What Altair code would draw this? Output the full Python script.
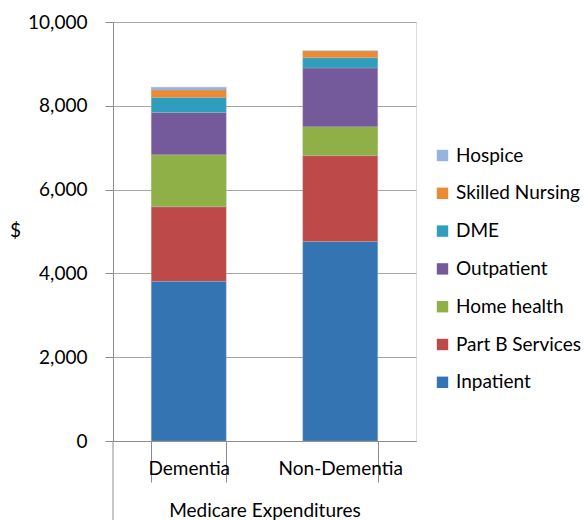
import altair as alt
import pandas as pd

groups = ["Dementia", "Non-Dementia"]
services = ["Inpatient", "Part B Services", "Home health", "Outpatient", "DME", "Skilled Nursing", "Hospice"]
dementia = [3810, 1780, 1240, 1010, 360, 175, 70]
non_dementia = [4760, 2050, 690, 1405, 240, 165, 0]
colors = ["#3574B3", "#BD4A48", "#8FAF47", "#745A9B", "#2F9EBD", "#EB8A35", "#95B4DE"]
y_ticks = [0, 2000, 4000, 6000, 8000, 10000]

rows = []
for g, vals in zip(groups, [dementia, non_dementia]):
    for i, (s, v) in enumerate(zip(services, vals)):
        rows.append({"group": g, "service": s, "value": v, "rank": i})
df = pd.DataFrame(rows)

FONT = "Lato"
W, H = 303, 419

bars = alt.Chart(df).mark_bar(stroke="#B0B0B0", strokeWidth=0.6, strokeOpacity=0.6).encode(
    x=alt.X("group:N", sort=groups,
            scale=alt.Scale(paddingInner=0.505, paddingOuter=0.2525),
            axis=alt.Axis(title="Medicare Expenditures", labelAngle=0, tickBand="extent",
                          tickSize=41, labelPadding=-14, domainColor="#8C8C8C",
                          tickColor="#8C8C8C", labelFontSize=19, labelFont=FONT,
                          labelColor="#000000", titleFontSize=19, titleFont=FONT,
                          titleFontWeight="normal", titleColor="#000000",
                          titleY=69, titleBaseline="middle",
                          labelBaseline="middle")),
    y=alt.Y("value:Q", stack="zero",
            scale=alt.Scale(domain=[0, 10000], nice=False),
            axis=alt.Axis(title="$", titleAngle=0, titleX=-98, titleY=H / 2 + 9,
                          titleFontSize=19, titleFont=FONT, titleFontWeight="normal",
                          titleColor="#000000", values=y_ticks, format=",.0f",
                          labelFontSize=19, labelFont=FONT, labelColor="#000000",
                          labelPadding=18, tickSize=8, tickColor="#8C8C8C",
                          domainColor="#8C8C8C", gridColor="#A6A6A6", gridWidth=1.2)),
    color=alt.Color("service:N",
                    scale=alt.Scale(domain=services[::-1], range=colors[::-1]),
                    legend=alt.Legend(title=None, orient="none", legendX=320, legendY=124,
                                      symbolType="square", symbolSize=130,
                                      symbolStrokeWidth=0, labelFontSize=19,
                                      labelFont=FONT, labelColor="#000000",
                                      rowPadding=17.8, labelOffset=4)),
    order=alt.Order("rank:Q", sort="ascending"),
)

ext = alt.Chart(pd.DataFrame({"a": [0]})).mark_rule(color="#8C8C8C", strokeWidth=1).encode(
    x=alt.value(0), y=alt.value(H), y2=alt.value(H + 90)
)

chart = alt.layer(bars, ext).properties(
    width=W, height=H,
    autosize=alt.AutoSizeParams(type="none"),
    padding={"left": 113, "top": 22, "right": 172, "bottom": 79},
).configure_view(stroke=None).configure(background="white")

chart.save("out.html", embed_options={"renderer": "svg", "actions": False})
